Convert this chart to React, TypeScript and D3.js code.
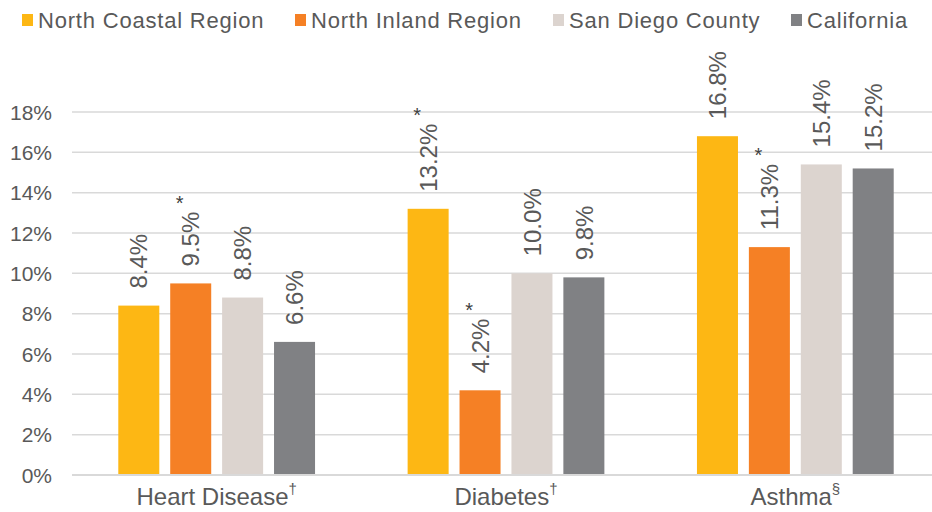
import React, { useRef, useEffect } from 'react'
import * as d3 from 'd3'

const categories = ['Heart Disease', 'Diabetes', 'Asthma']
const categoryMarks = ['†', '†', '§']
const seriesNames = ['North Coastal Region', 'North Inland Region', 'San Diego County', 'California']
const seriesColors = ['#FDB714', '#F58025', '#DCD4CF', '#808184']
const values = [
  [8.4, 9.5, 8.8, 6.6],
  [13.2, 4.2, 10.0, 9.8],
  [16.8, 11.3, 15.4, 15.2]
]
// asterisks: significant differences
const starred = [
  [false, true, false, false],
  [true, true, false, false],
  [false, true, false, false]
]
const yTicks = [0, 2, 4, 6, 8, 10, 12, 14, 16, 18]

const WIDTH = 932
const HEIGHT = 512
const FONT = '"Liberation Sans", Arial, sans-serif'
const TEXT = '#595959'

const App: React.FC = () => {
  const svgRef = useRef<SVGSVGElement>(null)

  useEffect(() => {
    if (!svgRef.current) return
    const svg = d3.select(svgRef.current)
    svg.selectAll('*').remove()

    const x0 = d3.scaleBand<string>()
      .domain(categories)
      .range([72, 940])
      .paddingInner(0.32)
      .paddingOuter(0.16)

    const x1 = d3.scaleBand<string>()
      .domain(seriesNames)
      .range([0, x0.bandwidth()])
      .paddingInner(0.21)

    const y = d3.scaleLinear().domain([0, 18]).range([475, 112])

    // 格線
    svg.append('g')
      .selectAll('line')
      .data(yTicks)
      .enter().append('line')
      .attr('x1', 72)
      .attr('x2', WIDTH)
      .attr('y1', d => y(d))
      .attr('y2', d => y(d))
      .attr('stroke', '#d9d9d9')
      .attr('stroke-width', 1.5)

    // y 軸標籤
    svg.append('g')
      .selectAll('text')
      .data(yTicks)
      .enter().append('text')
      .attr('x', 52)
      .attr('y', d => y(d))
      .attr('dy', '0.36em')
      .attr('text-anchor', 'end')
      .attr('font-family', FONT)
      .attr('font-size', '21px')
      .attr('fill', TEXT)
      .text(d => `${d}%`)

    const groups = svg.selectAll('g.group')
      .data(categories)
      .enter().append('g')
      .attr('class', 'group')
      .attr('transform', d => `translate(${x0(d)},0)`)

    groups.each(function (cat, ci) {
      const g = d3.select(this)
      const rows = seriesNames.map((name, si) => ({ name, si, v: values[ci][si], star: starred[ci][si] }))

      g.selectAll('rect')
        .data(rows)
        .enter().append('rect')
        .attr('x', d => x1(d.name)!)
        .attr('width', x1.bandwidth())
        .attr('y', d => y(d.v))
        .attr('height', d => y(0) - y(d.v))
        .attr('fill', d => seriesColors[d.si])

      rows.forEach(d => {
        const cx = x1(d.name)! + x1.bandwidth() / 2
        const startY = y(d.v) - 17
        const label = g.append('text')
          .attr('transform', `translate(${cx},${startY}) rotate(-90)`)
          .attr('dy', '0.36em')
          .attr('font-family', FONT)
          .attr('font-size', '24px')
          .attr('fill', TEXT)
          .text(`${d.v.toFixed(1)}%`)
        if (d.star) {
          const len = (label.node() as SVGTextElement).getComputedTextLength()
          g.append('text')
            .attr('x', cx - 11)
            .attr('y', startY - len - 2)
            .attr('text-anchor', 'middle')
            .attr('font-family', FONT)
            .attr('font-size', '20px')
            .attr('fill', '#404040')
            .text('*')
        }
      })
    })

    // x 軸線
    svg.append('line')
      .attr('x1', 72)
      .attr('x2', WIDTH)
      .attr('y1', y(0))
      .attr('y2', y(0))
      .attr('stroke', '#d9d9d9')
      .attr('stroke-width', 2)

    // 類別標籤
    const catLabels = svg.append('g')
      .selectAll('text')
      .data(categories)
      .enter().append('text')
      .attr('x', d => x0(d)! + x0.bandwidth() / 2)
      .attr('y', 505)
      .attr('text-anchor', 'middle')
      .attr('font-family', FONT)
      .attr('font-size', '24px')
      .attr('fill', TEXT)

    catLabels.append('tspan').text(d => d)
    catLabels.append('tspan')
      .attr('dy', -11)
      .attr('font-size', '15px')
      .text((d, i) => categoryMarks[i])

    // 圖例
    const legendX = [22, 295, 553, 791]
    const legend = svg.append('g')
      .selectAll('g')
      .data(seriesNames)
      .enter().append('g')
      .attr('transform', (d, i) => `translate(${legendX[i]},0)`)

    legend.append('rect')
      .attr('x', 0)
      .attr('y', 14)
      .attr('width', 11)
      .attr('height', 12)
      .attr('fill', (d, i) => seriesColors[i])

    legend.append('text')
      .attr('x', 16)
      .attr('y', 20)
      .attr('dy', '0.36em')
      .attr('font-family', FONT)
      .attr('font-size', '22px')
      .attr('letter-spacing', '0.8px')
      .attr('fill', TEXT)
      .text(d => d)
  }, [])

  return (
    <svg
      ref={svgRef}
      width={WIDTH}
      height={HEIGHT}
      style={{ position: 'absolute', left: 0, top: 0, background: '#fff' }}
    />
  )
}

export default App
